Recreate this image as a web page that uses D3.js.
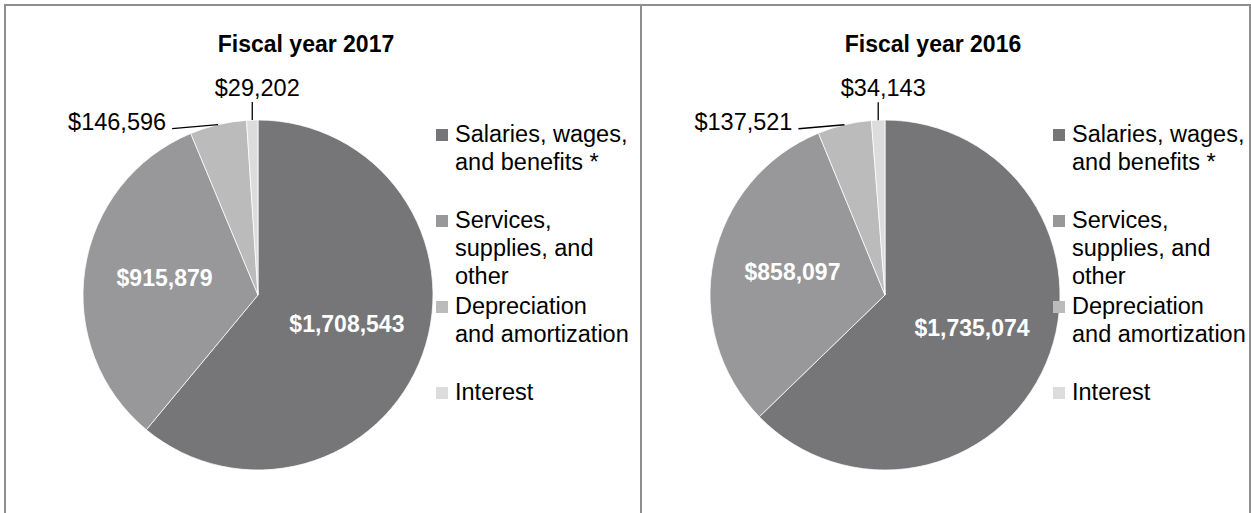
<!DOCTYPE html>
<html>
<head>
<meta charset="utf-8">
<script src="https://cdn.jsdelivr.net/npm/d3@7"></script>
<style>
  body { margin: 0; background: #fff; }
  svg text { font-family: "Liberation Sans", Arial, sans-serif; }
  .panel-border { fill: none; stroke: #8f8f8f; stroke-width: 2; }
  .chart-title { font-weight: bold; font-size: 23px; fill: #000; }
  .legend-text { font-size: 23.5px; fill: #000; }
  .slice-label { font-weight: bold; font-size: 23px; fill: #fff; }
  .outside-label { font-size: 23.5px; fill: #000; }
  .leader { stroke: #000; stroke-width: 1.3; fill: none; }
</style>
</head>
<body>
<svg id="chart"></svg>
<script>

// categories, in slice order (clockwise from 12 o'clock)
const categories = ['Salaries, wages, and benefits *', 'Services, supplies, and other', 'Depreciation and amortization', 'Interest'];
// legend wording as wrapped in the original
const legendLines = [
  ['Salaries, wages,', 'and benefits *'],
  ['Services,', 'supplies, and', 'other'],
  ['Depreciation', 'and amortization'],
  ['Interest']
];
const sliceColors = ['#767678', '#98989a', '#bbbbbc', '#dcdcdc'];

const titles = ['Fiscal year 2017', 'Fiscal year 2016'];
const values2017 = [1708543, 915879, 146596, 29202];
const values2016 = [1735074, 858097, 137521, 34143];

class PieChart {

  constructor(_config, _data) {
    this.config = {
      parentElement: _config.parentElement,
      left: _config.left,
      width: _config.width,
      cx: _config.cx,
      cy: _config.cy || 295,
      radius: _config.radius || 175,
      legendX: _config.legendX,
      title: _config.title
    }
    this.data = _data;
    this.initVis();
  }

  initVis() {
    let vis = this;

    vis.g = d3.select(vis.config.parentElement).append('g');

    // panel frame (bottom edge runs past the window)
    vis.g.append('rect')
      .attr('class', 'panel-border')
      .attr('x', vis.config.left)
      .attr('y', 5)
      .attr('width', vis.config.width)
      .attr('height', 560);

    vis.g.append('text')
      .attr('class', 'chart-title')
      .attr('x', vis.config.cx + 48)
      .attr('y', 52)
      .style('text-anchor', 'middle')
      .text(vis.config.title);

    vis.color = d3.scaleOrdinal()
      .domain(categories)
      .range(sliceColors);

    vis.pie = d3.pie()
      .sort(null)
      .value(d => d.value);

    vis.arc = d3.arc()
      .innerRadius(0)
      .outerRadius(vis.config.radius);

    // where the white value labels sit inside the slices
    vis.labelArc = d3.arc()
      .innerRadius(vis.config.radius * 0.54)
      .outerRadius(vis.config.radius * 0.54);

    // slice edge, used for leader lines
    vis.edgeArc = d3.arc()
      .innerRadius(vis.config.radius)
      .outerRadius(vis.config.radius);

    vis.chart = vis.g.append('g')
      .attr('transform', `translate(${vis.config.cx},${vis.config.cy})`);

    vis.legendY = d3.scalePoint()
      .domain(categories)
      .range([142, 400]);

    vis.updateVis();
  }

  updateVis() {
    let vis = this;
    vis.arcs = vis.pie(vis.data.map((v, i) => ({ category: categories[i], value: v })));
    vis.fmt = d3.format('$,');
    vis.renderVis();
  }

  renderVis() {
    let vis = this;

    vis.chart.selectAll('.slice')
      .data(vis.arcs)
      .join('path')
        .attr('class', 'slice')
        .attr('d', vis.arc)
        .attr('fill', d => vis.color(d.data.category))
        .attr('stroke', '#fff')
        .attr('stroke-width', 0.75);

    // big slices: label inside
    vis.chart.selectAll('.slice-label')
      .data(vis.arcs.filter(d => d.index < 2))
      .join('text')
        .attr('class', 'slice-label')
        .attr('transform', d => `translate(${vis.labelArc.centroid(d)})`)
        .attr('dy', '0.2em')
        .style('text-anchor', 'middle')
        .text(d => vis.fmt(d.data.value));

    // thin slices: label outside with a leader line
    const outside = vis.arcs.filter(d => d.index >= 2);
    outside.forEach(d => {
      const p = vis.edgeArc.centroid(d);
      const isTop = d.index === 3;
      const end = isTop ? [p[0], p[1] - 18] : [p[0] - 46, p[1] + 4];
      vis.chart.append('path')
        .attr('class', 'leader')
        .attr('d', d3.line()([p, end]));
      vis.chart.append('text')
        .attr('class', 'outside-label')
        .attr('x', isTop ? p[0] + 5 : end[0] - 6)
        .attr('y', isTop ? end[1] - 6 : end[1] + 1)
        .style('text-anchor', isTop ? 'middle' : 'end')
        .text(vis.fmt(d.data.value));
    });

    // legend
    const item = vis.g.selectAll('.legend-item')
      .data(categories)
      .join('g')
        .attr('class', 'legend-item')
        .attr('transform', d => `translate(${vis.config.legendX},${vis.legendY(d)})`);

    item.append('rect')
      .attr('x', 0)
      .attr('y', -13)
      .attr('width', 12)
      .attr('height', 12)
      .attr('fill', d => vis.color(d));

    item.append('text')
      .attr('class', 'legend-text')
      .attr('x', 19)
      .selectAll('tspan')
      .data((d, i) => legendLines[i])
      .join('tspan')
        .attr('x', 19)
        .attr('dy', (d, i) => i === 0 ? 0 : 28)
        .text(d => d);
  }
}

d3.select('#chart')
  .attr('width', 1251)
  .attr('height', 513);

new PieChart({ parentElement: '#chart', left: 5, width: 636, cx: 258, legendX: 436, title: titles[0] }, values2017);
new PieChart({ parentElement: '#chart', left: 641, width: 609, cx: 885, legendX: 1053, title: titles[1] }, values2016);

</script>
</body>
</html>
